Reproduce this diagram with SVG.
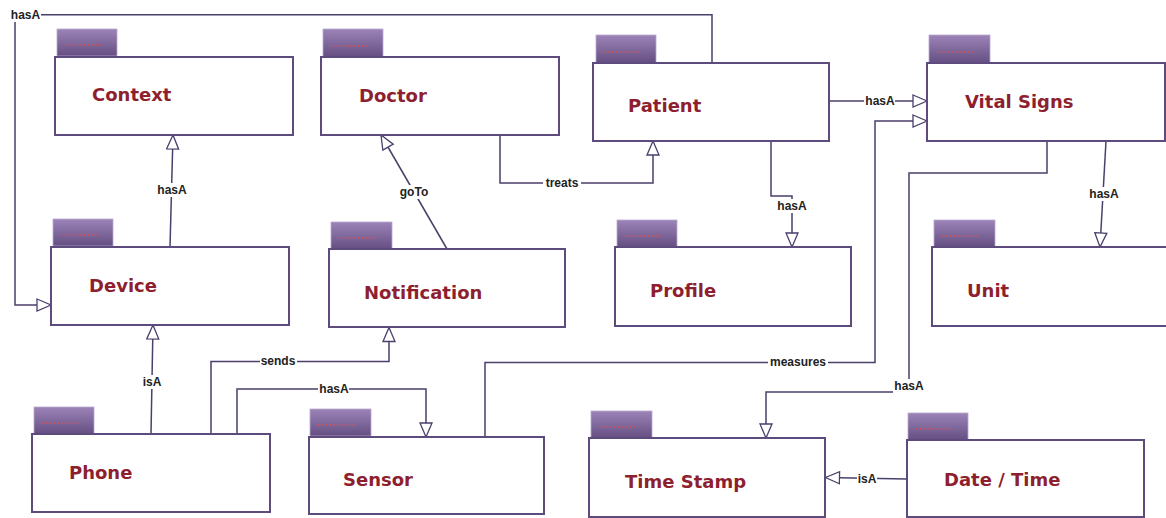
<svg xmlns="http://www.w3.org/2000/svg" width="1166" height="518" viewBox="0 0 1166 518">
<defs>
<linearGradient id="tabg" x1="0" y1="0" x2="0" y2="1">
<stop offset="0" stop-color="#9c84b8"/>
<stop offset="1" stop-color="#644e82"/>
</linearGradient>
<marker id="arr" markerUnits="userSpaceOnUse" markerWidth="16" markerHeight="14" refX="14" refY="6" orient="auto" viewBox="-1 -1 16 14">
<path d="M0,0 L14,6 L0,12 Z" fill="#fff" stroke="#4b3f6b" stroke-width="1.3"/>
</marker>
<style>
.tab{fill:url(#tabg);stroke:#b9a9d0;stroke-width:0.8}
.dots{stroke:#d8505a;stroke-width:1.4;stroke-dasharray:1.6 2.2}
.box{fill:#fff;stroke:#5e4b7e;stroke-width:2}
.title{font-family:"DejaVu Sans",sans-serif;font-weight:bold;font-size:18px;fill:#8e1f2f}
.conn path{fill:none;stroke:#4b3f6b;stroke-width:1.5}
.lbl rect{fill:#fff}
.lbl text{font-family:"Liberation Sans",Arial,sans-serif;font-weight:bold;font-size:12px;fill:#222;text-anchor:middle}
</style>
</defs>
<rect width="1166" height="518" fill="#fff"/>

<g id="connectors" class="conn">
<path d="M712,63 V14.7 H15 V305 H51" marker-end="url(#arr)"/>
<path d="M170,247 L173,135" marker-end="url(#arr)"/>
<path d="M447,249 L381,135" marker-end="url(#arr)"/>
<path d="M500,135 V183 H653 V141" marker-end="url(#arr)"/>
<path d="M829,101 H927" marker-end="url(#arr)"/>
<path d="M771,141 V196 H792 V247" marker-end="url(#arr)"/>
<path d="M1106,141 L1100,247" marker-end="url(#arr)"/>
<path d="M151,434 L153,325" marker-end="url(#arr)"/>
<path d="M211,434 V361.5 H389 V327.5" marker-end="url(#arr)"/>
<path d="M237,434 V389 H426 V437" marker-end="url(#arr)"/>
<path d="M485,437 V362.5 H875 V121 H927" marker-end="url(#arr)"/>
<path d="M1047,141 V173 H909 V392 H766 V438" marker-end="url(#arr)"/>
<path d="M907,479 L825.5,477.5" marker-end="url(#arr)"/>
<g class="lbl">
<rect x="10" y="8" width="31" height="14"/><text x="25.5" y="19">hasA</text>
<rect x="157" y="183" width="31" height="14"/><text x="172" y="194">hasA</text>
<rect x="399" y="185" width="31" height="14"/><text x="414" y="196">goTo</text>
<rect x="543" y="176" width="38" height="14"/><text x="562" y="187">treats</text>
<rect x="864" y="94" width="31" height="14"/><text x="880" y="105">hasA</text>
<rect x="776" y="199" width="31" height="14"/><text x="792" y="210">hasA</text>
<rect x="1088" y="187" width="31" height="14"/><text x="1104" y="198">hasA</text>
<rect x="142" y="375" width="20" height="14"/><text x="152" y="386">isA</text>
<rect x="260" y="354" width="37" height="14"/><text x="278" y="365">sends</text>
<rect x="318" y="382" width="31" height="14"/><text x="334" y="393">hasA</text>
<rect x="768" y="355" width="60" height="14"/><text x="798" y="366">measures</text>
<rect x="893" y="379" width="32" height="14"/><text x="909" y="390">hasA</text>
<rect x="857" y="472" width="20" height="14"/><text x="867" y="483">isA</text>
</g>
</g>

<g id="context"><rect class="tab" x="57" y="29" width="60" height="27"/><line class="dots" x1="65" y1="45" x2="101" y2="45"/><rect class="box" x="55" y="57" width="238" height="78"/><text class="title" x="92" y="101">Context</text></g>
<g id="doctor"><rect class="tab" x="323" y="29" width="60" height="28"/><line class="dots" x1="331" y1="46" x2="367" y2="46"/><rect class="box" x="321" y="57" width="238" height="78"/><text class="title" x="359" y="102">Doctor</text></g>
<g id="patient"><rect class="tab" x="596" y="35" width="60" height="28"/><line class="dots" x1="604" y1="52" x2="640" y2="52"/><rect class="box" x="593" y="63" width="236" height="78"/><text class="title" x="628" y="112">Patient</text></g>
<g id="vital-signs"><rect class="tab" x="929" y="35" width="61" height="28"/><line class="dots" x1="937" y1="52" x2="973" y2="52"/><rect class="box" x="927" y="63" width="238" height="78"/><text class="title" x="965" y="108">Vital Signs</text></g>
<g id="device"><rect class="tab" x="53" y="219" width="60" height="27"/><line class="dots" x1="61" y1="235" x2="97" y2="235"/><rect class="box" x="51" y="247" width="238" height="78"/><text class="title" x="89" y="292">Device</text></g>
<g id="notification"><rect class="tab" x="331" y="222" width="61" height="27"/><line class="dots" x1="339" y1="238" x2="375" y2="238"/><rect class="box" x="329" y="249" width="236" height="78"/><text class="title" x="364" y="299">Notification</text></g>
<g id="profile"><rect class="tab" x="617" y="220" width="60" height="27"/><line class="dots" x1="625" y1="236" x2="661" y2="236"/><rect class="box" x="615" y="247" width="236" height="79"/><text class="title" x="650" y="297">Profile</text></g>
<g id="unit"><rect class="tab" x="934" y="220" width="61" height="27"/><line class="dots" x1="942" y1="236" x2="978" y2="236"/><rect class="box" x="932" y="247" width="240" height="79"/><text class="title" x="967" y="297">Unit</text></g>
<g id="phone"><rect class="tab" x="34" y="407" width="60" height="27"/><line class="dots" x1="42" y1="423" x2="78" y2="423"/><rect class="box" x="32" y="434" width="238" height="78"/><text class="title" x="69" y="479">Phone</text></g>
<g id="sensor"><rect class="tab" x="310" y="409" width="61" height="27"/><line class="dots" x1="318" y1="425" x2="354" y2="425"/><rect class="box" x="309" y="437" width="235" height="77"/><text class="title" x="343" y="486">Sensor</text></g>
<g id="time-stamp"><rect class="tab" x="591" y="411" width="61" height="27"/><line class="dots" x1="599" y1="427" x2="635" y2="427"/><rect class="box" x="589" y="438" width="236" height="79"/><text class="title" x="625" y="488">Time Stamp</text></g>
<g id="date-time"><rect class="tab" x="908" y="413" width="60" height="27"/><line class="dots" x1="916" y1="429" x2="952" y2="429"/><rect class="box" x="907" y="440" width="237" height="77"/><text class="title" x="944" y="486">Date / Time</text></g>
</svg>
